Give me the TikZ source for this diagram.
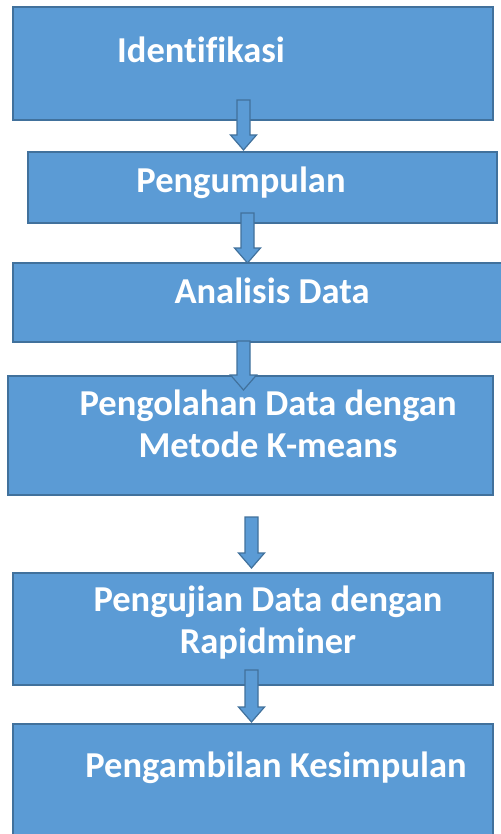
\documentclass[tikz,border=0pt]{standalone}
\usepackage{fontspec}
\setmainfont{Carlito}[Ligatures=NoCommon]
\usetikzlibrary{calc}

\definecolor{stagefill}{HTML}{5B9BD5}
\definecolor{stageline}{HTML}{41719C}

\tikzset{
  stage/.style={draw=stageline, fill=stagefill, line width=1.2pt, inner sep=0pt},
  caption/.style={text=white, font=\fontsize{36.5}{41.5}\selectfont\bfseries,
                  align=center, inner sep=0pt, anchor=base},
  flow/.style={draw=stageline, fill=stagefill, line width=1.2pt, line join=miter}
}

% block arrow from (#1) down to the tip (#2)
\newcommand{\flowarrow}[2]{%
  \filldraw[flow] let \p1=(#1), \p2=(#2) in
    (\x1-6.5pt,\y1) -- (\x1+6.5pt,\y1) -- (\x1+6.5pt,\y2+15pt) -- (\x1+13pt,\y2+15pt)
    -- (\x1,\y2) -- (\x1-13pt,\y2+15pt) -- (\x1-6.5pt,\y2+15pt) -- cycle;}

\begin{document}
\begin{tikzpicture}[x=1pt,y=-1pt]
\useasboundingbox (0,0) rectangle (500,834);

\node[stage, minimum width=480, minimum height=113] (identifikasi) at (253,63.5) {};
\node[stage, minimum width=469, minimum height=71]  (pengumpulan)  at (262.5,187.5) {};
\node[stage, minimum width=490, minimum height=79]  (analisis)     at (258,302.5) {};
\node[stage, minimum width=485, minimum height=119] (pengolahan)   at (250.5,435.5) {};
\node[stage, minimum width=480, minimum height=112] (pengujian)    at (253,629) {};
\node[stage, minimum width=480, minimum height=116] (kesimpulan)   at (253,782) {};

% base anchor = baseline of the last line
\node[caption] (identifikasi-text) at (201,63)  {Identifikasi};
\node[caption] (pengumpulan-text)  at (241,193) {Pengumpulan};
\node[caption] (analisis-text)     at (272,303) {Analisis Data};
\node[caption] (pengolahan-text)   at (268,457) {Pengolahan Data dengan\\Metode K-means};
\node[caption] (pengujian-text)    at (268,653) {Pengujian Data dengan\\Rapidminer};
\node[caption] (kesimpulan-text)   at (276,777) {Pengambilan Kesimpulan};

\coordinate (a1) at (243.5,100); \coordinate (t1) at (243.5,150);
\coordinate (a2) at (247.5,213); \coordinate (t2) at (247.5,263);
\coordinate (a3) at (243.5,341); \coordinate (t3) at (243.5,390);
\coordinate (a4) at (251.5,517); \coordinate (t4) at (251.5,568);
\coordinate (a5) at (251.5,670); \coordinate (t5) at (251.5,722);

\flowarrow{a1}{t1}
\flowarrow{a2}{t2}
\flowarrow{a3}{t3}
\flowarrow{a4}{t4}
\flowarrow{a5}{t5}
\end{tikzpicture}
\end{document}
